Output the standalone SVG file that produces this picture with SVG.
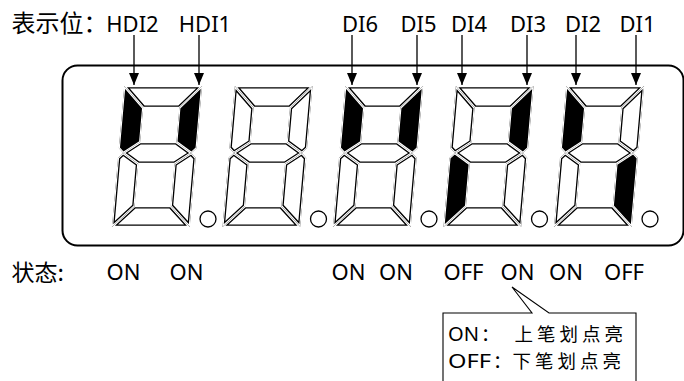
<svg xmlns="http://www.w3.org/2000/svg" xmlns:xlink="http://www.w3.org/1999/xlink" width="684" height="381" viewBox="0 0 684 381">
  <style>
    .lat { font-family: "Noto Sans", "Noto Sans CJK SC", sans-serif; font-size: 22px; fill: #000; }
    .cjk { font-family: "Noto Sans CJK SC", "Noto Sans", sans-serif; fill: #000; }
    .frame { fill: none; stroke: #000; stroke-width: 2; }
    .off { fill: #fff; stroke: #000; stroke-width: 5; }
    .on { fill: #000; stroke: none; }
    .gap { fill: none; stroke: #fff; stroke-width: 2.4; }
    .dot { fill: #fff; stroke: #000; stroke-width: 1.3; }
    .arrow { stroke: #000; stroke-width: 1.3; fill: none; marker-end: url(#head); }
    .callout { fill: none; stroke: #000; stroke-width: 1.1; }
    .key { font-family: "Noto Sans", sans-serif; font-size: 19.5px; }
    .desc { letter-spacing: 4px; }
  </style>
  <defs>
    <marker id="head" markerUnits="userSpaceOnUse" viewBox="0 0 12 10" markerWidth="12" markerHeight="10" refX="12" refY="5" orient="auto">
      <path d="M0,0 L12,5 L0,10 Z" fill="#000"/>
    </marker>
    <!-- seven segment outlines, upright, centred on the digit -->
    <polygon id="pA" points="-39,-70.5 39,-70.5 18,-48.5 -18,-48.5"/>
    <polygon id="pB" points="39,-70.5 39,-8.5 34,-3.5 18,-14.5 18,-48.5"/>
    <polygon id="pC" points="39,70.5 39,1.5 34,-3.5 18,7.5 18,49.5"/>
    <polygon id="pD" points="-39,70.5 39,70.5 18,49.5 -18,49.5"/>
    <polygon id="pE" points="-39,70.5 -39,1.5 -34,-3.5 -18,7.5 -18,49.5"/>
    <polygon id="pF" points="-39,-70.5 -39,-8.5 -34,-3.5 -18,-14.5 -18,-48.5"/>
    <polygon id="pG" points="-34,-3.5 -18,-14.5 18,-14.5 34,-3.5 18,7.5 -18,7.5"/>
    <clipPath id="kA"><use xlink:href="#pA"/></clipPath>
    <clipPath id="kB"><use xlink:href="#pB"/></clipPath>
    <clipPath id="kC"><use xlink:href="#pC"/></clipPath>
    <clipPath id="kD"><use xlink:href="#pD"/></clipPath>
    <clipPath id="kE"><use xlink:href="#pE"/></clipPath>
    <clipPath id="kF"><use xlink:href="#pF"/></clipPath>
    <clipPath id="kG"><use xlink:href="#pG"/></clipPath>
    <!-- unlit segments: white body, black outline, white seam -->
    <g id="sA" clip-path="url(#kA)"><use xlink:href="#pA" class="off"/><use xlink:href="#pA" class="gap"/></g>
    <g id="sB" clip-path="url(#kB)"><use xlink:href="#pB" class="off"/><use xlink:href="#pB" class="gap"/></g>
    <g id="sC" clip-path="url(#kC)"><use xlink:href="#pC" class="off"/><use xlink:href="#pC" class="gap"/></g>
    <g id="sD" clip-path="url(#kD)"><use xlink:href="#pD" class="off"/><use xlink:href="#pD" class="gap"/></g>
    <g id="sE" clip-path="url(#kE)"><use xlink:href="#pE" class="off"/><use xlink:href="#pE" class="gap"/></g>
    <g id="sF" clip-path="url(#kF)"><use xlink:href="#pF" class="off"/><use xlink:href="#pF" class="gap"/></g>
    <g id="sG" clip-path="url(#kG)"><use xlink:href="#pG" class="off"/><use xlink:href="#pG" class="gap"/></g>
    <!-- lit segments: solid black body -->
    <g id="lB" clip-path="url(#kB)"><use xlink:href="#pB" class="on"/><use xlink:href="#pB" class="gap"/></g>
    <g id="lC" clip-path="url(#kC)"><use xlink:href="#pC" class="on"/><use xlink:href="#pC" class="gap"/></g>
    <g id="lE" clip-path="url(#kE)"><use xlink:href="#pE" class="on"/><use xlink:href="#pE" class="gap"/></g>
    <g id="lF" clip-path="url(#kF)"><use xlink:href="#pF" class="on"/><use xlink:href="#pF" class="gap"/></g>
    <g id="digit">
      <use xlink:href="#sA"/><use xlink:href="#sB"/><use xlink:href="#sC"/><use xlink:href="#sD"/>
      <use xlink:href="#sE"/><use xlink:href="#sF"/><use xlink:href="#sG"/>
    </g>
  </defs>

  <rect width="684" height="381" fill="#fff"/>

  <!-- display panel -->
  <g id="panel">
    <rect class="frame" x="62.5" y="65.5" width="621" height="180" rx="15" ry="15"/>
  </g>

  <g id="digit1">
    <g transform="translate(157,156.5) skewX(-5)"><use xlink:href="#digit"/><use xlink:href="#lF"/><use xlink:href="#lB"/></g>
    <circle class="dot" cx="208" cy="219" r="8"/>
  </g>
  <g id="digit2">
    <g transform="translate(267.5,156.5) skewX(-5)"><use xlink:href="#digit"/></g>
    <circle class="dot" cx="318.5" cy="219" r="8"/>
  </g>
  <g id="digit3">
    <g transform="translate(378,156.5) skewX(-5)"><use xlink:href="#digit"/><use xlink:href="#lF"/><use xlink:href="#lB"/></g>
    <circle class="dot" cx="429" cy="219" r="8"/>
  </g>
  <g id="digit4">
    <g transform="translate(488.5,156.5) skewX(-5)"><use xlink:href="#digit"/><use xlink:href="#lB"/><use xlink:href="#lE"/></g>
    <circle class="dot" cx="539.5" cy="219" r="8"/>
  </g>
  <g id="digit5">
    <g transform="translate(599,156.5) skewX(-5)"><use xlink:href="#digit"/><use xlink:href="#lF"/><use xlink:href="#lC"/></g>
    <circle class="dot" cx="650" cy="219" r="8"/>
  </g>

  <!-- bit labels -->
  <g id="bit-labels">
    <text class="cjk" x="11.5" y="31.5" font-size="24">表示位：</text>
    <text class="lat" x="132.5" y="31.5" text-anchor="middle">HDI2</text>
    <text class="lat" x="205" y="31.5" text-anchor="middle">HDI1</text>
    <text class="lat" x="360" y="31.5" text-anchor="middle">DI6</text>
    <text class="lat" x="418.5" y="31.5" text-anchor="middle">DI5</text>
    <text class="lat" x="469" y="31.5" text-anchor="middle">DI4</text>
    <text class="lat" x="528" y="31.5" text-anchor="middle">DI3</text>
    <text class="lat" x="583" y="31.5" text-anchor="middle">DI2</text>
    <text class="lat" x="637.5" y="31.5" text-anchor="middle">DI1</text>
  </g>

  <!-- arrows from labels to segments -->
  <g id="connectors">
    <line class="arrow" x1="134" y1="35" x2="134" y2="85"/>
    <line class="arrow" x1="199" y1="35" x2="199" y2="85"/>
    <line class="arrow" x1="352" y1="35" x2="352" y2="85"/>
    <line class="arrow" x1="417" y1="35" x2="417" y2="85"/>
    <line class="arrow" x1="462" y1="35" x2="462" y2="85"/>
    <line class="arrow" x1="527" y1="35" x2="527" y2="85"/>
    <line class="arrow" x1="576" y1="35" x2="576" y2="85"/>
    <line class="arrow" x1="636" y1="35" x2="636" y2="85"/>
  </g>

  <!-- state row -->
  <g id="state-labels">
    <text class="cjk" x="11.5" y="281" font-size="23">状态:</text>
    <text class="lat" x="123.5" y="279.5" text-anchor="middle" font-size="21">ON</text>
    <text class="lat" x="186.5" y="279.5" text-anchor="middle" font-size="21">ON</text>
    <text class="lat" x="348.5" y="279.5" text-anchor="middle" font-size="21">ON</text>
    <text class="lat" x="396" y="279.5" text-anchor="middle" font-size="21">ON</text>
    <text class="lat" x="463.5" y="279.5" text-anchor="middle" font-size="21">OFF</text>
    <text class="lat" x="517.5" y="279.5" text-anchor="middle" font-size="21">ON</text>
    <text class="lat" x="566" y="279.5" text-anchor="middle" font-size="21">ON</text>
    <text class="lat" x="624" y="279.5" text-anchor="middle" font-size="21">OFF</text>
  </g>

  <!-- legend callout -->
  <g id="legend">
    <path class="callout" d="M443,381 V313 H532 L512,287 L549,313 H636 V381"/>
    <text class="cjk" font-size="18.5" y="341"><tspan x="448" class="key" textLength="31" lengthAdjust="spacingAndGlyphs">ON</tspan><tspan x="481">：</tspan><tspan x="514.5" class="desc">上笔划点亮</tspan></text>
    <text class="cjk" font-size="18.5" y="368"><tspan x="448" class="key" textLength="43" lengthAdjust="spacingAndGlyphs">OFF</tspan><tspan x="493">：</tspan><tspan x="512.5" class="desc">下笔划点亮</tspan></text>
  </g>
</svg>
